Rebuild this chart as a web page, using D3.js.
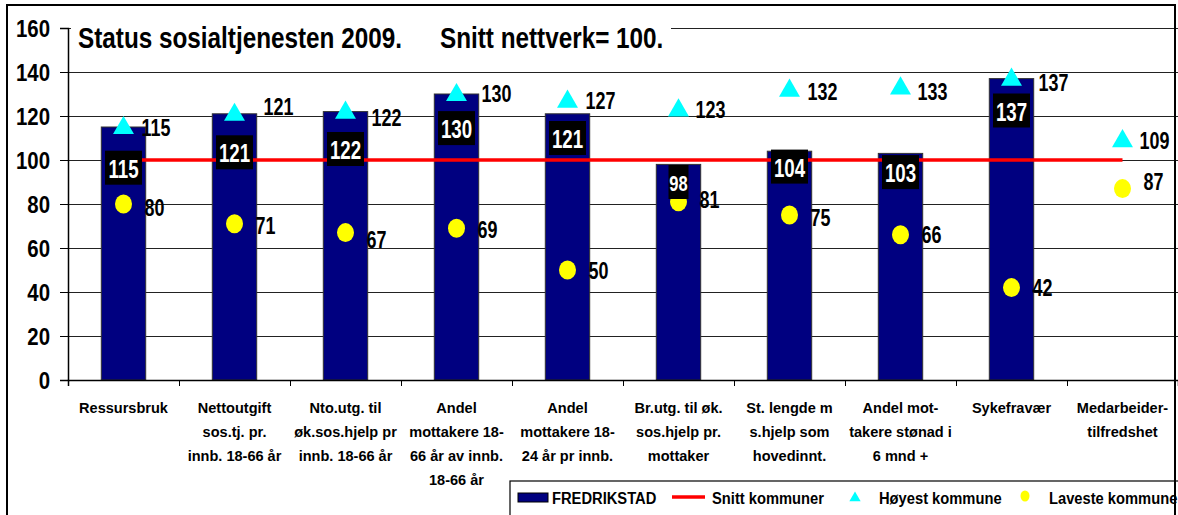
<!DOCTYPE html>
<html>
<head>
<meta charset="utf-8">
<script src="https://cdn.jsdelivr.net/npm/d3@7"></script>
<style>
  body{margin:0;background:#fff;}
  svg{display:block;font-family:"Liberation Sans",Arial,sans-serif;font-weight:bold;}
</style>
</head>
<body>
<div id="chart"></div>
<script>
// categories (x axis, multi-line labels)
var categories = [
  ["Ressursbruk"],
  ["Nettoutgift","sos.tj. pr.","innb. 18-66 år"],
  ["Nto.utg. til","øk.sos.hjelp pr","innb. 18-66 år"],
  ["Andel","mottakere 18-","66 år av innb.","18-66 år"],
  ["Andel","mottakere 18-","24 år pr innb."],
  ["Br.utg. til øk.","sos.hjelp pr.","mottaker"],
  ["St. lengde m","s.hjelp som","hovedinnt."],
  ["Andel mot-","takere stønad i","6 mnd +"],
  ["Sykefravær"],
  ["Medarbeider-","tilfredshet"]
];
var fredrikstad = [115,121,122,130,121,98,104,103,137,null];
var snitt       = [100,100,100,100,100,100,100,100,100,100];
var hoyest      = [115,121,122,130,127,123,132,133,137,109];
var laveste     = [80,71,67,69,50,81,75,66,42,87];
var yTicks      = [0,20,40,60,80,100,120,140,160];

// label placement tweaks (hand placed in the original)
var barLabelAt = [96.5,103.5,105,114.5,110,90,97,94.5,122.5,null];
var hiDx = [18,29,26,25,18,17,18,17,27,17];
var hiDy = [1,-7,6,0,0,0,2,4,4,0];
var loDy = [4,2,7,1,1,-2,3,0,0,-7];

var W=1178, H=515;
var mLeft=68, mRight=1178, mTop=28, mBottom=380;

var svg=d3.select("#chart").append("svg").attr("width",W).attr("height",H);

var idx=d3.range(categories.length);
var x=d3.scaleBand().domain(idx).range([mLeft,mRight]).padding(0);
var xEdge=d3.scaleLinear().domain([0,categories.length]).range([mLeft,mRight]);
var y=d3.scaleLinear().domain([0,160]).range([mBottom,mTop]);
var cx=function(i){return x(i)+x.bandwidth()/2;};
var barW=x.bandwidth()*0.4;

// condensed text helper (original fonts are narrow)
function txt(g,px,py,s,size,sx,anchor,fill){
  return g.append("text")
    .attr("transform","translate("+px+","+py+") scale("+sx+",1)")
    .attr("text-anchor",anchor||"start")
    .attr("dominant-baseline","central")
    .style("font-size",size+"px")
    .style("fill",fill||"#000")
    .text(s);
}

// gridlines
svg.append("g").attr("transform","translate("+mLeft+",0)")
  .call(d3.axisLeft(y).tickValues(yTicks).tickSize(-(mRight-mLeft)).tickFormat(""))
  .call(function(g){g.select(".domain").remove();})
  .selectAll("line").attr("stroke","#222").attr("stroke-width",1.2);

// title box hides the top gridline
svg.append("rect").attr("x",mLeft+3).attr("y",12).attr("width",600).attr("height",46).attr("fill","#fff");
txt(svg,78,38,"Status sosialtjenesten 2009.",30,0.81);
txt(svg,440,38,"Snitt nettverk= 100.",30,0.81);

// bars
svg.append("g").selectAll("rect").data(idx.filter(function(i){return fredrikstad[i]!=null;}))
  .enter().append("rect")
  .attr("x",function(i){return cx(i)-barW/2;})
  .attr("y",function(i){return y(fredrikstad[i]);})
  .attr("width",barW)
  .attr("height",function(i){return y(0)-y(fredrikstad[i]);})
  .attr("fill","#000080").attr("stroke","#333").attr("stroke-width",1);

// snitt kommuner line
svg.append("path").datum(idx)
  .attr("d",d3.line().x(function(i){return cx(i);}).y(function(i){return y(snitt[i]);}))
  .attr("fill","none").attr("stroke","#ff0000").attr("stroke-width",3.5);

// triangles
var tri=d3.symbol().type(d3.symbolTriangle).size(190);
svg.append("g").selectAll("path").data(idx).enter().append("path")
  .attr("d",tri)
  .attr("transform",function(i){return "translate("+cx(i)+","+(y(hoyest[i])+1)+")";})
  .attr("fill","#00ffff");

// circles
svg.append("g").selectAll("ellipse").data(idx).enter().append("ellipse")
  .attr("cx",function(i){return cx(i);})
  .attr("cy",function(i){return y(laveste[i]);})
  .attr("rx",8.5).attr("ry",9.5)
  .attr("fill","#ffff00");

// bar value labels (black boxes)
var bl=svg.append("g");
idx.forEach(function(i){
  if(fredrikstad[i]==null) return;
  var small=fredrikstad[i]<100;
  var bw=small?20:37, bh=34;
  var yy=y(barLabelAt[i]);
  bl.append("rect").attr("x",cx(i)-bw/2).attr("y",yy-bh/2).attr("width",bw).attr("height",bh).attr("fill","#000");
  txt(bl,cx(i),yy+1,fredrikstad[i],small?22:26,small?0.75:0.72,"middle","#fff");
});

// marker labels
var ml=svg.append("g");
idx.forEach(function(i){
  txt(ml,cx(i)+hiDx[i],y(hoyest[i])+hiDy[i],hoyest[i],23,0.78);
  txt(ml,cx(i)+21,y(laveste[i])+loDy[i],laveste[i],23,0.78);
});

// y axis
var ya=svg.append("g").attr("transform","translate("+mLeft+",0)")
  .call(d3.axisLeft(y).tickValues(yTicks).tickSize(8).tickPadding(0));
ya.select(".domain").attr("stroke","#000").attr("stroke-width",1.5);
ya.selectAll("line").attr("stroke","#000");
ya.selectAll("text").attr("x",null).attr("dy",null)
  .attr("transform","translate(-18,0) scale(0.85,1)")
  .attr("dominant-baseline","central")
  .style("font-size","24px").style("font-family","Liberation Sans, Arial, sans-serif");

// x axis (band boundaries)
var xa=svg.append("g").attr("transform","translate(0,"+mBottom+")")
  .call(d3.axisBottom(xEdge).tickValues(d3.range(categories.length+1)).tickSize(6).tickFormat(""));
xa.select(".domain").attr("stroke","#000").attr("stroke-width",1.5);
xa.selectAll("line").attr("stroke","#000");

// category labels
var cl=svg.append("g");
idx.forEach(function(i){
  categories[i].forEach(function(s,k){
    txt(cl,cx(i),408+k*24,s,15,0.97,"middle");
  });
});

// legend
var lg=svg.append("g");
lg.append("rect").attr("x",510).attr("y",481).attr("width",700).attr("height",50)
  .attr("fill","#fff").attr("stroke","#000").attr("stroke-width",1.2);
lg.append("rect").attr("x",518).attr("y",493).attr("width",30).attr("height",9).attr("fill","#000080").attr("stroke","#000");
txt(lg,552,498,"FREDRIKSTAD",16,0.92);
lg.append("line").attr("x1",672).attr("x2",705).attr("y1",497).attr("y2",497).attr("stroke","#ff0000").attr("stroke-width",3.5);
txt(lg,712,498,"Snitt kommuner",16,0.92);
lg.append("path").attr("d",d3.symbol().type(d3.symbolTriangle).size(55)).attr("transform","translate(855,498)").attr("fill","#00ffff");
txt(lg,879,498,"Høyest kommune",16,0.92);
lg.append("ellipse").attr("cx",1025).attr("cy",496).attr("rx",4.5).attr("ry",5.5).attr("fill","#ffff00");
txt(lg,1049,498,"Laveste kommune",16,0.92);

// outer frame
svg.append("rect").attr("x",7).attr("y",5).attr("width",1168).attr("height",530)
  .attr("fill","none").attr("stroke","#000").attr("stroke-width",2);
</script>
</body>
</html>
